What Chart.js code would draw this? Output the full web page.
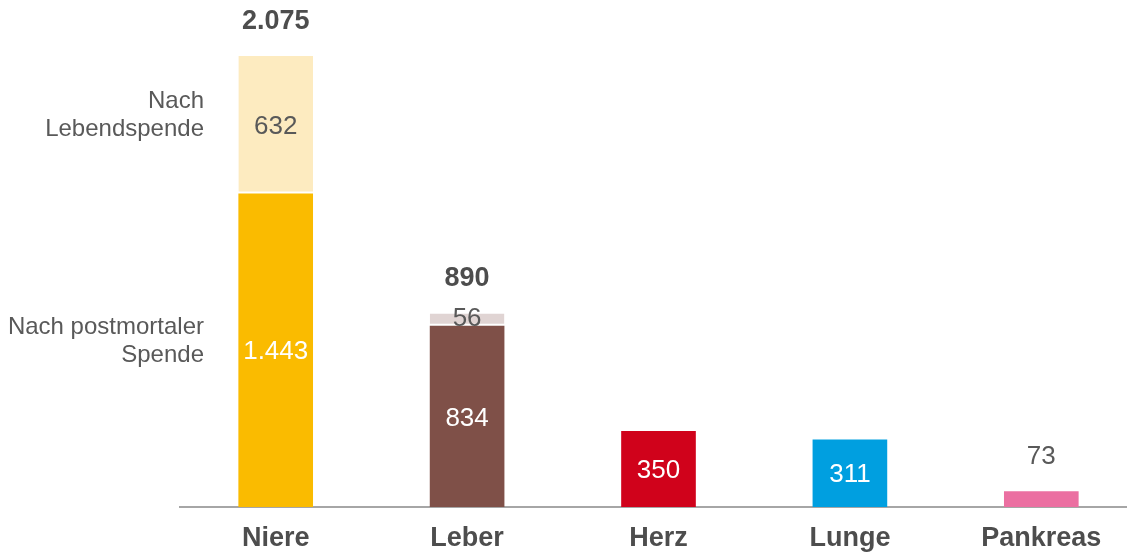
<!DOCTYPE html>
<html lang="de">
<head>
<meta charset="UTF-8">
<title>Transplantationen</title>
<script src="https://cdn.jsdelivr.net/npm/chart.js"></script>
<style>
  html, body { margin: 0; padding: 0; background: #fff; overflow: hidden; }
  .chart_area { width: 1137px; height: 553px; }
</style>
</head>
<body>
<div class="chart_area">
  <canvas id="txChart" width="1137" height="553"></canvas>
</div>

<script>
// data
const organs = ['Niere', 'Leber', 'Herz', 'Lunge', 'Pankreas'];
const postmortal = [1443, 834, 350, 311, 73];
const living = [632, 56, null, null, null];
const seriesNames = ['Nach postmortaler\nSpende', 'Nach\nLebendspende'];

const darkColors = ['#FABB00', '#7F5048', '#D0021B', '#009FE0', '#EB6FA1'];
const lightColors = ['#FDEBC0', '#E0D4D3', '#fff', '#fff', '#fff'];
const textGrey = '#595959';
const boldGrey = '#4D4D4D';
const FONT = '"Liberation Sans", Arial, sans-serif';

// German number format: 1.443
function fmt(v) {
  return String(v).replace(/\B(?=(\d{3})+(?!\d))/g, '.');
}

const labelPlugin = {
  id: 'labels',
  afterDatasetsDraw(chart) {
    const ctx = chart.ctx;
    const area = chart.chartArea;
    ctx.save();
    ctx.textAlign = 'center';
    ctx.textBaseline = 'middle';

    // values inside the segments
    chart.data.datasets.forEach((ds, di) => {
      const meta = chart.getDatasetMeta(di);
      meta.data.forEach((bar, i) => {
        const v = ds.data[i];
        if (v == null) return;
        const h = bar.base - bar.y;
        ctx.font = '26px ' + FONT;
        if (h < 25 && di === 0) {
          // too small: put it above the bar
          ctx.fillStyle = textGrey;
          ctx.fillText(fmt(v), bar.x, bar.y - 34);
        } else {
          ctx.fillStyle = di === 0 ? '#fff' : textGrey;
          ctx.fillText(fmt(v), bar.x, (bar.y + bar.base) / 2 - (h < 25 ? 3 : 0) + 2);
        }
      });
    });

    // totals on stacked bars
    const top = chart.getDatasetMeta(1);
    top.data.forEach((bar, i) => {
      if (living[i] == null) return;
      ctx.font = 'bold 27px ' + FONT;
      ctx.fillStyle = boldGrey;
      ctx.fillText(fmt(postmortal[i] + living[i]), bar.x, bar.y - 35);
    });

    // series names left of the first bar
    ctx.textAlign = 'right';
    ctx.font = '24px ' + FONT;
    ctx.fillStyle = textGrey;
    [0, 1].forEach(di => {
      const bar = chart.getDatasetMeta(di).data[0];
      const lines = seriesNames[di].split('\n');
      const mid = (bar.y + bar.base) / 2 - 9;
      lines.forEach((ln, k) => {
        ctx.fillText(ln, area.left + 24, mid + (k - (lines.length - 1) / 2) * 28);
      });
    });
    ctx.restore();
  }
};

const ctx = document.getElementById('txChart').getContext('2d');
const txChart = new Chart(ctx, {
  type: 'bar',
  data: {
    labels: organs,
    datasets: [
      {
        label: 'Nach postmortaler Spende',
        data: postmortal,
        backgroundColor: darkColors,
        borderWidth: 0
      },
      {
        label: 'Nach Lebendspende',
        data: living,
        backgroundColor: lightColors,
        borderColor: '#fff',
        borderWidth: { top: 0, left: 0, right: 0, bottom: 2 },
        borderSkipped: false
      }
    ]
  },
  options: {
    responsive: false,
    animation: false,
    layout: { padding: { left: 180, top: 0, right: 0, bottom: 0 } },
    datasets: {
      bar: { barPercentage: 0.39, categoryPercentage: 1 }
    },
    plugins: {
      legend: { display: false },
      tooltip: { enabled: false }
    },
    scales: {
      x: {
        stacked: true,
        grid: { display: false },
        border: { display: true, color: '#A6A6A6', width: 2 },
        ticks: {
          padding: 7,
          color: boldGrey,
          font: { family: FONT, size: 27, weight: 'bold', lineHeight: 1.2 }
        },
        afterFit(scale) { scale.height = 46; }
      },
      y: {
        stacked: true,
        display: false,
        min: 0,
        max: 2333
      }
    }
  },
  plugins: [labelPlugin]
});
</script>
</body>
</html>
